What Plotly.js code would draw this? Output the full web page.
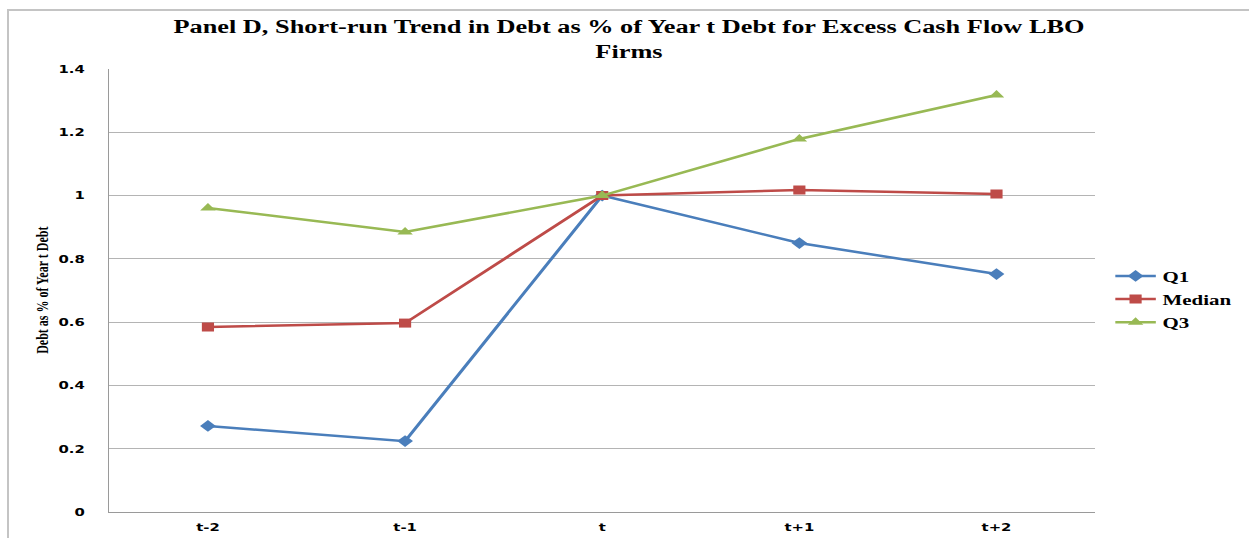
<!DOCTYPE html>
<html>
<head>
<meta charset="utf-8">
<script src="https://cdn.plot.ly/plotly-3.0.1.min.js"></script>
<style>
  html, body { margin: 0; padding: 0; background: #fff; overflow: hidden; }
  #frame { position: absolute; left: 7px; top: 9px; width: 1300px; height: 600px;
           border-top: 2px solid #c4c4c4; border-left: 2px solid #c4c4c4; }
  #wrap { position: absolute; left: 0; top: 0; width: 1249px; height: 538px; overflow: hidden; }
  #chart { position: absolute; left: 0; top: 0; transform-origin: 0 0; }
</style>
</head>
<body>
<div id="frame"></div>
<div id="wrap"><div id="chart"></div></div>
<script>
const categories = ["t-2", "t-1", "t", "t+1", "t+2"];
const q1 = [0.272, 0.224, 1.0, 0.850, 0.752];
const median = [0.585, 0.597, 1.0, 1.018, 1.005];
const q3 = [0.961, 0.885, 1.0, 1.179, 1.318];
const yTicks = [0, 0.2, 0.4, 0.6, 0.8, 1, 1.2, 1.4];

const FULL_W = 1249, H = 538;
const W = 925;                 // drawn width before horizontal stretch
const S = FULL_W / W;          // horizontal stretch factor
const chart = document.getElementById('chart');
chart.style.transform = 'scaleX(' + S + ')';

const tickFont = { family: 'DejaVu Sans', size: 11, color: '#000', weight: 'bold' };
const serifBold = 'Liberation Serif';

function series(name, y, color, symbol, msize) {
  return {
    x: categories, y: y, name: '<b>' + name + '</b>', type: 'scatter', mode: 'lines+markers',
    line: { color: color, width: 2.5 },
    marker: { color: color, symbol: symbol, size: msize }
  };
}

const data = [
  series('Q1', q1, '#4a7ebb', 'diamond', 9),
  series('Median', median, '#be4b48', 'square', 9),
  series('Q3', q3, '#98b954', 'triangle-up', 10)
];

const layout = {
  width: W, height: H,
  margin: { l: 80.7, r: 114.2, t: 69, b: 26, pad: 0, autoexpand: false },
  paper_bgcolor: 'rgba(0,0,0,0)', plot_bgcolor: '#fff',
  showlegend: true,
  title: {
    text: '<b>Panel D, Short-run Trend in Debt as % of Year t Debt for Excess Cash Flow LBO<br>Firms</b>',
    font: { family: serifBold, size: 19.5, color: '#000' },
    x: 0.5036, xanchor: 'center', xref: 'container',
    y: 1 - 33 / H, yanchor: 'top', yref: 'container'
  },
  xaxis: {
    type: 'category', range: [-0.5, 4.5],
    showgrid: false, zeroline: false,
    showline: true, linecolor: '#9a9a9a', linewidth: 1,
    ticks: '', tickfont: tickFont, ticklabelstandoff: 5,
    fixedrange: true
  },
  yaxis: {
    range: [0, 1.4], tickvals: yTicks, ticktext: yTicks.map(v => String(v)),
    showgrid: true, gridcolor: '#b4b4b4', gridwidth: 1,
    zeroline: false, showline: true, linecolor: '#9a9a9a', linewidth: 1,
    ticks: '', tickfont: tickFont, ticklabelstandoff: 15,
    fixedrange: true
  },
  annotations: [{
    text: '<b>Debt as % of Year t Debt</b>',
    xref: 'paper', yref: 'paper', x: -0.068, y: 0.5,
    xanchor: 'center', yanchor: 'middle', textangle: -90, showarrow: false,
    font: { family: serifBold, size: 12, color: '#000' }
  }],
  legend: {
    xref: 'container', x: 821 / 925, xanchor: 'left',
    yref: 'paper', y: 0.48, yanchor: 'middle',
    font: { family: serifBold, size: 15.5, color: '#000' },
    bgcolor: 'rgba(0,0,0,0)', borderwidth: 0,
    tracegroupgap: 0, itemwidth: 30
  }
};

Plotly.newPlot(chart, data, layout, { displayModeBar: false, staticPlot: true });
</script>
</body>
</html>
